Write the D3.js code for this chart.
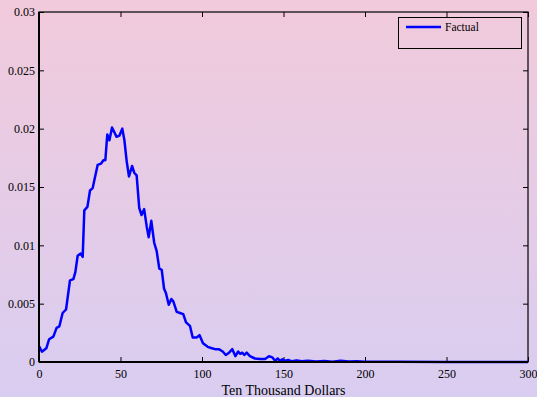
<!DOCTYPE html>
<html>
<head>
<meta charset="utf-8">
<script src="https://cdn.jsdelivr.net/npm/d3@7/dist/d3.min.js"></script>
<style>
html,body{margin:0;padding:0;}
svg{display:block;}
</style>
</head>
<body>
<svg id="chart" width="537" height="397"></svg>
<script>
const seriesName = "Factual";
const xLabel = "Ten Thousand Dollars";
const xTicks = [0, 50, 100, 150, 200, 250, 300];
const yTicks = [0, 0.005, 0.01, 0.015, 0.02, 0.025, 0.03];
const yTickLabels = ["0", "0.005", "0.01", "0.015", "0.02", "0.025", "0.03"];

const incomeX = [0, 1.8, 4.5, 6.2, 8.8, 10.8, 12.5, 14.5, 16.6, 19.0, 21.1, 22.3, 23.7, 25.6, 26.8, 27.8, 29.7, 31.3, 32.9, 36.0, 38.0, 39.5, 40.7, 41.9, 43.2, 44.8, 47.6, 49.3, 51.1, 52.4, 53.8, 55.2, 57.1, 58.5, 59.9, 61.5, 62.9, 64.5, 66.1, 67.3, 68.9, 70.7, 72.2, 73.8, 75.3, 76.7, 77.9, 79.6, 81.2, 82.4, 84.5, 86.5, 88.5, 90.2, 92.6, 94.3, 96.7, 98.5, 100.6, 103.5, 105.6, 108, 110.3, 112.7, 114.6, 116.6, 118.6, 120.5, 122.2, 123.5, 124.7, 126.0, 127.4, 129.4, 132.5, 135.6, 138.7, 141.1, 143.1, 144.8, 146.4, 147.9, 149.3, 150.9, 153, 155, 158.1, 161.2, 165, 170, 175, 180, 185, 190, 195, 200, 220, 250, 300];
const density = [0.00137, 0.00088, 0.00117, 0.00195, 0.00217, 0.00293, 0.00306, 0.0042, 0.0045, 0.0070, 0.0071, 0.0077, 0.0091, 0.0093, 0.0090, 0.0130, 0.0133, 0.0147, 0.0149, 0.0169, 0.0170, 0.0173, 0.0173, 0.0195, 0.0190, 0.0201, 0.0193, 0.0194, 0.0200, 0.0190, 0.0172, 0.0159, 0.0168, 0.0162, 0.0160, 0.0132, 0.0126, 0.0131, 0.0116, 0.0107, 0.0121, 0.0102, 0.0095, 0.0080, 0.0079, 0.0063, 0.0059, 0.0049, 0.0054, 0.0052, 0.0043, 0.0042, 0.0041, 0.0034, 0.0031, 0.0021, 0.0021, 0.0023, 0.0016, 0.0013, 0.0012, 0.0011, 0.0011, 0.0009, 0.0006, 0.0008, 0.0011, 0.0005, 0.0009, 0.0007, 0.0008, 0.0006, 0.0008, 0.0005, 0.0003, 0.00026, 0.00026, 0.0005, 0.0004, 0.0001, 0.0003, 0.0001, 0.00023, 0.0001, 0.00017, 0.00006, 0.00014, 0.00006, 0.0001, 0.00004, 0.00008, 0.00003, 0.0001, 0.00004, 0.00007, 0.00002, 0.00002, 0.00001, 0.00001];

(function () {
const W = 537, H = 397;
const mLeft = 39, mRight = 528, mTop = 12, mBottom = 362;
const serif = "'Times New Roman', 'Liberation Serif', serif";
const svg = d3.select("#chart");

const defs = svg.append("defs");
const grad = defs.append("linearGradient").attr("id", "bg").attr("x1", 0).attr("y1", 0).attr("x2", 0).attr("y2", 1);
grad.append("stop").attr("offset", "0%").attr("stop-color", "#f1cadb");
grad.append("stop").attr("offset", "100%").attr("stop-color", "#d9cdf1");
svg.append("rect").attr("width", W).attr("height", H).attr("fill", "url(#bg)");

const x = d3.scaleLinear().domain([0, 300]).range([mLeft, mRight]);
const y = d3.scaleLinear().domain([0, 0.03]).range([mBottom, mTop]);

const tl = 5;
const gx = svg.append("g").attr("transform", `translate(0,${mBottom})`)
  .call(d3.axisBottom(x).tickValues(xTicks).tickSize(-tl).tickPadding(7).tickFormat(d3.format("d")));
const gxt = svg.append("g").attr("transform", `translate(0,${mTop})`)
  .call(d3.axisTop(x).tickValues(xTicks).tickSize(-tl).tickFormat(""));
const gy = svg.append("g").attr("transform", `translate(${mLeft},0)`)
  .call(d3.axisLeft(y).tickValues(yTicks).tickSize(-tl).tickPadding(4).tickFormat((d, i) => yTickLabels[i]));
const gyr = svg.append("g").attr("transform", `translate(${mRight},0)`)
  .call(d3.axisRight(y).tickValues(yTicks).tickSize(-tl).tickFormat(""));

[gx, gxt, gy, gyr].forEach(g => {
  g.attr("font-family", serif).attr("font-size", 12);
  g.selectAll(".domain").remove();
  g.selectAll("line").attr("stroke", "#000").attr("stroke-width", 1);
  g.selectAll("text").attr("fill", "#000");
});

const line = d3.line().x((d, i) => x(incomeX[i])).y(d => y(d));
svg.append("path").datum(density)
  .attr("d", line)
  .attr("fill", "none")
  .attr("stroke", "#0000ff")
  .attr("stroke-width", 2.5)
  .attr("stroke-linejoin", "round");

svg.append("rect").attr("x", mLeft).attr("y", mTop).attr("width", mRight - mLeft).attr("height", mBottom - mTop)
  .attr("fill", "none").attr("stroke", "#000").attr("stroke-width", 1.2);
svg.append("line").attr("x1", mLeft).attr("x2", mRight).attr("y1", mBottom).attr("y2", mBottom)
  .attr("stroke", "#000").attr("stroke-width", 2);
svg.append("line").attr("x1", mLeft).attr("x2", mLeft).attr("y1", mTop).attr("y2", mBottom)
  .attr("stroke", "#000").attr("stroke-width", 2);

svg.append("text").attr("x", (mLeft + mRight) / 2).attr("y", 395).attr("text-anchor", "middle")
  .attr("font-family", serif).attr("font-size", 14).attr("fill", "#000").text(xLabel);

const lg = svg.append("g");
lg.append("rect").attr("x", 398.5).attr("y", 17.5).attr("width", 123).attr("height", 31)
  .attr("fill", "none").attr("stroke", "#000").attr("stroke-width", 1);
lg.append("line").attr("x1", 406).attr("x2", 441).attr("y1", 27).attr("y2", 27)
  .attr("stroke", "#0000ff").attr("stroke-width", 2.5);
lg.append("text").attr("x", 445).attr("y", 31).attr("font-family", serif).attr("font-size", 11.5)
  .attr("fill", "#000").text(seriesName);
})();
</script>
</body>
</html>
